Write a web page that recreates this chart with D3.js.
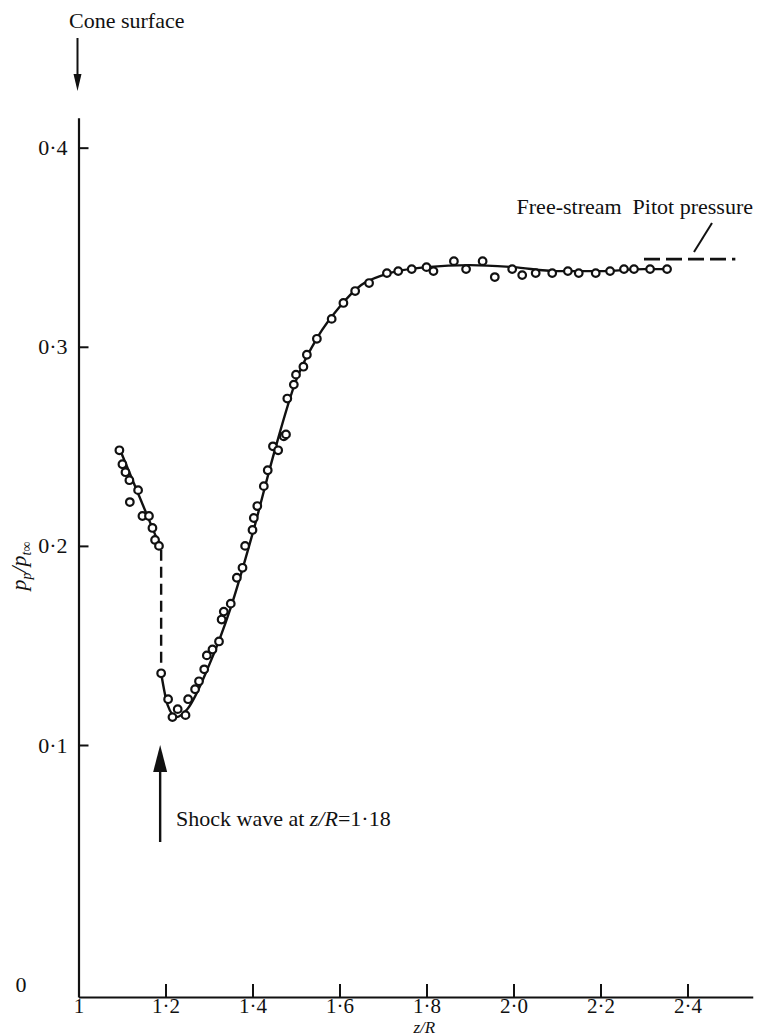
<!DOCTYPE html>
<html>
<head>
<meta charset="utf-8">
<script src="https://cdn.jsdelivr.net/npm/d3@7"></script>
<style>
  body { margin: 0; background: #fff; }
  svg { display: block; }
  text { font-family: 'Liberation Serif', 'DejaVu Serif', serif; fill: #111; }
</style>
</head>
<body>
<div id="chart"></div>
<script>
// measured points upstream of the shock (z/R, p_p/p_t∞)
const zUp = [1.094, 1.101, 1.108, 1.117, 1.137, 1.118, 1.147, 1.162, 1.170, 1.176, 1.185]
const pUp = [0.248, 0.241, 0.237, 0.233, 0.228, 0.222, 0.215, 0.215, 0.209, 0.203, 0.200]

// measured points behind the shock
const zDown = [1.190, 1.206, 1.216, 1.228, 1.246, 1.252, 1.268, 1.277, 1.289, 1.295, 1.308,
  1.323, 1.329, 1.334, 1.350, 1.364, 1.377, 1.383, 1.400, 1.403, 1.411, 1.426, 1.435,
  1.447, 1.459, 1.472, 1.477, 1.480, 1.495, 1.500, 1.517, 1.525, 1.548, 1.582, 1.609,
  1.636, 1.668, 1.709, 1.735, 1.766, 1.800, 1.816, 1.863, 1.891, 1.929, 1.957, 1.997,
  2.020, 2.051, 2.089, 2.125, 2.150, 2.189, 2.222, 2.254, 2.277, 2.314, 2.353]
const pDown = [0.136, 0.123, 0.114, 0.118, 0.115, 0.123, 0.128, 0.132, 0.138, 0.145, 0.148,
  0.152, 0.163, 0.167, 0.171, 0.184, 0.189, 0.200, 0.208, 0.214, 0.220, 0.230, 0.238,
  0.250, 0.248, 0.255, 0.256, 0.274, 0.281, 0.286, 0.290, 0.296, 0.304, 0.314, 0.322,
  0.328, 0.332, 0.337, 0.338, 0.339, 0.340, 0.338, 0.343, 0.339, 0.343, 0.335, 0.339,
  0.336, 0.337, 0.337, 0.338, 0.337, 0.337, 0.338, 0.339, 0.339, 0.339, 0.339]

// faired curves drawn through the points
const fairUpZ = [1.094, 1.185]
const fairUpP = [0.249, 0.201]
const fairDownZ = [1.19, 1.205, 1.225, 1.25, 1.3, 1.35, 1.4, 1.45, 1.5, 1.55, 1.6, 1.65, 1.7, 1.8, 1.9, 2.0, 2.1, 2.2, 2.3, 2.36]
const fairDownP = [0.136, 0.12, 0.114, 0.118, 0.14, 0.169, 0.206, 0.247, 0.283, 0.305, 0.32, 0.331, 0.336, 0.340, 0.341, 0.340, 0.338, 0.338, 0.339, 0.339]

// jump across the shock, free-stream Pitot level
const shockZ = 1.19
const shockJumpP = [0.198, 0.139]
const pitotZ = [2.30, 2.51]
const pitotP = 0.344

const xTicks = [1, 1.2, 1.4, 1.6, 1.8, 2.0, 2.2, 2.4]
const xTickLabels = ['1', '1·2', '1·4', '1·6', '1·8', '2·0', '2·2', '2·4']
const yTicks = [0, 0.1, 0.2, 0.3, 0.4]
const yTickLabels = ['0', '0·1', '0·2', '0·3', '0·4']

const width = 758
const height = 1036
const fontSize = 22

const svg = d3
  .select('#chart')
  .append('svg')
  .attr('width', width)
  .attr('height', height)
  .style('background', '#fff')

// z/R axis runs a little past 2.4
const x = d3.scaleLinear().domain([1, 2.55]).range([78.5, 752.75])
// the figure puts 0 well below the 0.1-0.4 spacing
const y = d3.scaleLinear().domain([0, 0.1, 0.415]).range([997, 745, 117.8])

const xAxis = d3
  .axisBottom(x)
  .tickValues(xTicks)
  .tickFormat((d, i) => xTickLabels[i])
  .tickSizeInner(-13)
  .tickSizeOuter(0)
  .tickPadding(1)

const yAxis = d3
  .axisLeft(y)
  .tickValues(yTicks.slice(1))
  .tickFormat((d, i) => yTickLabels[i + 1])
  .tickSizeInner(-10)
  .tickSizeOuter(0)
  .tickPadding(11)

const gx = svg
  .append('g')
  .attr('transform', `translate(0,${y(0)})`)
  .call(xAxis)

const gy = svg
  .append('g')
  .attr('transform', `translate(${x(1)},0)`)
  .call(yAxis)

;[gx, gy].forEach(g => {
  g.select('.domain').attr('stroke', '#111').attr('stroke-width', 2.2)
  g.selectAll('.tick line').attr('stroke', '#111').attr('stroke-width', 2)
  g.selectAll('.tick text')
    .attr('font-family', "'Liberation Serif', serif")
    .attr('font-size', fontSize)
    .attr('fill', '#111')
})
gx.selectAll('.tick text').attr('font-size', 21)

// the zero label sits by itself at the corner
svg
  .append('text')
  .attr('x', 21)
  .attr('y', y(0) - 12)
  .attr('dy', '0.32em')
  .attr('text-anchor', 'middle')
  .attr('font-size', fontSize)
  .text(yTickLabels[0])

const line = d3
  .line()
  .x(d => x(d[0]))
  .y(d => y(d[1]))
  .curve(d3.curveMonotoneX)

svg
  .append('path')
  .datum(d3.zip(fairUpZ, fairUpP))
  .attr('d', line)
  .attr('fill', 'none')
  .attr('stroke', '#111')
  .attr('stroke-width', 2.4)

svg
  .append('path')
  .datum(d3.zip(fairDownZ, fairDownP))
  .attr('d', line)
  .attr('fill', 'none')
  .attr('stroke', '#111')
  .attr('stroke-width', 2.4)

// dashed jump across the shock
svg
  .append('line')
  .attr('x1', x(shockZ))
  .attr('x2', x(shockZ))
  .attr('y1', y(shockJumpP[0]))
  .attr('y2', y(shockJumpP[1]))
  .attr('stroke', '#111')
  .attr('stroke-width', 2.4)
  .attr('stroke-dasharray', '11,6')

// free-stream Pitot pressure, dashed
svg
  .append('line')
  .attr('x1', x(pitotZ[0]))
  .attr('x2', x(pitotZ[1]))
  .attr('y1', y(pitotP))
  .attr('y2', y(pitotP))
  .attr('stroke', '#111')
  .attr('stroke-width', 2.6)
  .attr('stroke-dasharray', '16,6')

svg
  .append('line')
  .attr('x1', 694)
  .attr('y1', 252)
  .attr('x2', 712)
  .attr('y2', 223)
  .attr('stroke', '#111')
  .attr('stroke-width', 2)

const points = d3.zip(zUp, pUp).concat(d3.zip(zDown, pDown))

svg
  .selectAll('circle')
  .data(points)
  .enter()
  .append('circle')
  .attr('cx', d => x(d[0]))
  .attr('cy', d => y(d[1]))
  .attr('r', 3.8)
  .attr('fill', '#fff')
  .attr('stroke', '#111')
  .attr('stroke-width', 2.2)

// annotations
svg
  .append('text')
  .attr('x', 69)
  .attr('y', 28)
  .attr('font-size', fontSize)
  .text('Cone surface')

svg
  .append('line')
  .attr('x1', x(1) - 1)
  .attr('x2', x(1) - 1)
  .attr('y1', 38)
  .attr('y2', 78)
  .attr('stroke', '#111')
  .attr('stroke-width', 2)

svg
  .append('path')
  .attr('d', `M${x(1) - 5},74 L${x(1) + 3},74 L${x(1) - 1},91 Z`)
  .attr('fill', '#111')

svg
  .append('line')
  .attr('x1', x(shockZ) - 1)
  .attr('x2', x(shockZ) - 1)
  .attr('y1', 765)
  .attr('y2', 842)
  .attr('stroke', '#111')
  .attr('stroke-width', 2.4)

svg
  .append('path')
  .attr('d', `M${x(shockZ) - 8},772 L${x(shockZ) + 6},772 L${x(shockZ) - 1},745 Z`)
  .attr('fill', '#111')

const shockText = svg
  .append('text')
  .attr('x', 176)
  .attr('y', 826)
  .attr('font-size', fontSize)

shockText.append('tspan').text('Shock wave at ')
shockText.append('tspan').attr('font-style', 'italic').text('z/R')
shockText.append('tspan').text('=1·18')

svg
  .append('text')
  .attr('x', 753)
  .attr('y', 214)
  .attr('text-anchor', 'end')
  .attr('font-size', fontSize)
  .attr('xml:space', 'preserve')
  .text('Free-stream  Pitot pressure')

svg
  .append('text')
  .attr('x', x(1.795))
  .attr('y', 1033)
  .attr('text-anchor', 'middle')
  .attr('font-size', 17)
  .attr('font-style', 'italic')
  .text('z/R')

const yLabel = svg
  .append('text')
  .attr('transform', 'translate(26,566) rotate(-90)')
  .attr('text-anchor', 'middle')
  .attr('font-size', fontSize)
  .attr('font-style', 'italic')

yLabel.append('tspan').text('p')
yLabel.append('tspan').attr('font-size', 14).attr('dy', 5).text('p')
yLabel.append('tspan').attr('dy', -5).text('/p')
yLabel.append('tspan').attr('font-size', 14).attr('dy', 5).text('t∞')
</script>
</body>
</html>
